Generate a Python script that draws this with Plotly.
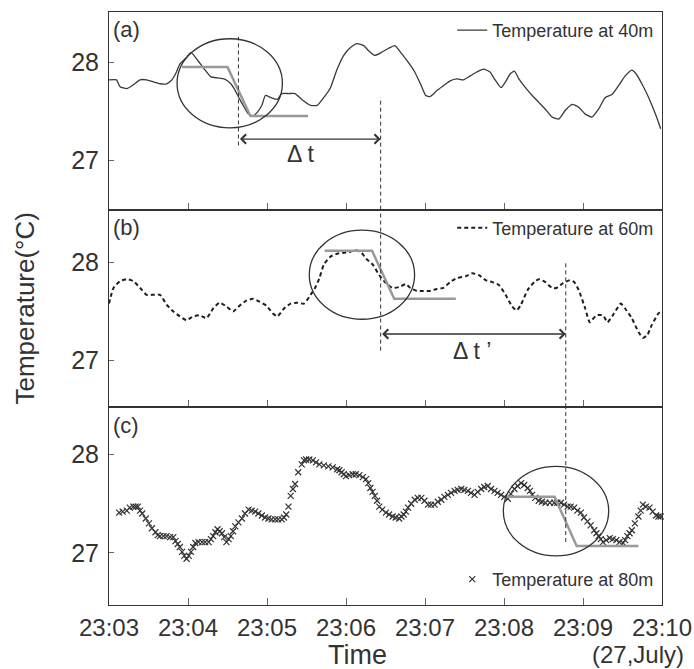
import plotly.graph_objects as go
from plotly.subplots import make_subplots

# ---------------- data (time in seconds after 23:03:00, temperature in degC) -------------
tick_seconds = [0, 60, 120, 180, 240, 300, 360, 420]
tick_labels = ["23:03", "23:04", "23:05", "23:06", "23:07", "23:08", "23:09", "23:10"]

t40 = [0, 5.7, 8.4, 13.5, 18.5, 23.6, 28.6, 33.7, 38.7, 43.7,
       47.1, 50.5, 53.8, 58.9, 62.3, 67.3, 72.4, 77.4, 82.4, 87.5,
       92.5, 95.9, 99.3, 102.7, 106.0, 109.4, 112.7, 116.1, 118.8, 122.8,
       127.9, 131.2, 136.3, 141.3, 146.4, 153.1, 158.2, 163.2, 168.2, 173.3,
       178.3, 183.4, 188.5, 193.5, 196.9, 201.9, 206.9, 212.0, 217.1, 222.1,
       227.2, 232.2, 237.2, 240.6, 244.0, 249.0, 254.0, 259.1, 264.2, 269.2,
       274.3, 279.3, 284.3, 289.4, 292.7, 297.8, 301.2, 304.6, 307.9, 311.3,
       316.3, 321.4, 326.4, 331.4, 336.5, 341.6, 346.6, 351.7, 356.7, 361.7,
       366.8, 371.8, 376.9, 382.0, 387.0, 392.0, 397.1, 400.4, 405.5, 410.5,
       415.6, 419.0]
temp40 = [27.82, 27.82, 27.75, 27.73, 27.77, 27.82, 27.82, 27.80, 27.78, 27.78,
          27.81, 27.88, 27.98, 28.05, 28.10, 28.02, 27.93, 27.85, 27.84, 27.83,
          27.78, 27.71, 27.62, 27.54, 27.47, 27.45, 27.49, 27.56, 27.66, 27.64,
          27.62, 27.68, 27.68, 27.68, 27.62, 27.56, 27.56, 27.64, 27.74, 27.93,
          28.07, 28.15, 28.19, 28.17, 28.12, 28.07, 28.10, 28.14, 28.17, 28.09,
          28.00, 27.90, 27.76, 27.66, 27.65, 27.71, 27.76, 27.81, 27.83, 27.82,
          27.86, 27.90, 27.93, 27.90, 27.83, 27.74, 27.80, 27.88, 27.91, 27.83,
          27.74, 27.66, 27.59, 27.52, 27.44, 27.42, 27.51, 27.57, 27.54, 27.47,
          27.44, 27.52, 27.64, 27.67, 27.76, 27.86, 27.92, 27.88, 27.76, 27.62,
          27.45, 27.32]

t60 = [0, 3.4, 8.4, 13.5, 18.5, 23.6, 28.6, 33.7, 38.7, 43.7,
       48.8, 53.8, 58.9, 64.0, 69.0, 74.0, 79.1, 84.1, 89.2, 94.2,
       99.3, 104.3, 109.4, 114.4, 119.5, 124.5, 127.9, 132.9, 138.0, 143.0,
       148.1, 153.1, 156.5, 159.8, 163.2, 168.2, 173.3, 178.3, 183.4, 186.8,
       191.8, 195.2, 200.2, 205.3, 210.3, 215.4, 220.4, 225.5, 228.8, 233.9,
       238.9, 244.0, 249.0, 254.0, 259.1, 264.2, 270.9, 275.9, 281.0, 286.0,
       291.1, 296.1, 301.2, 306.2, 309.6, 312.9, 318.0, 323.0, 326.4, 331.4,
       336.5, 339.9, 344.9, 350.0, 353.3, 356.7, 361.7, 365.1, 370.2, 375.2,
       378.6, 383.6, 388.7, 392.0, 397.1, 402.1, 405.5, 408.9, 412.2, 417.3,
       419.7]
temp60 = [27.58, 27.74, 27.81, 27.83, 27.81, 27.74, 27.67, 27.67, 27.67, 27.57,
          27.50, 27.45, 27.41, 27.45, 27.46, 27.43, 27.53, 27.59, 27.55, 27.50,
          27.56, 27.61, 27.63, 27.60, 27.56, 27.48, 27.45, 27.53, 27.58, 27.59,
          27.58, 27.67, 27.74, 27.84, 27.98, 28.06, 28.09, 28.10, 28.11, 28.13,
          28.10, 28.04, 27.98, 27.87, 27.79, 27.74, 27.75, 27.78, 27.74, 27.71,
          27.71, 27.71, 27.73, 27.74, 27.80, 27.84, 27.86, 27.89, 27.87, 27.82,
          27.80, 27.77, 27.67, 27.55, 27.51, 27.57, 27.72, 27.80, 27.83, 27.80,
          27.74, 27.74, 27.79, 27.82, 27.80, 27.72, 27.53, 27.39, 27.46, 27.46,
          27.39, 27.48, 27.58, 27.53, 27.43, 27.29, 27.23, 27.26, 27.36, 27.48,
          27.50]

t80 = [7.7, 10.4, 13.5, 15.8, 18.5, 20.2, 21.9, 23.6, 25.2, 27.9,
       30.3, 32.6, 35.3, 37.0, 38.7, 41.4, 43.7, 46.4, 48.8, 50.5,
       52.2, 53.8, 55.5, 57.2, 58.9, 60.6, 62.3, 63.9, 65.6, 68.0,
       70.7, 73.0, 75.7, 77.4, 79.1, 80.8, 82.4, 84.1, 85.8, 87.5,
       89.2, 90.9, 92.5, 94.2, 95.9, 98.3, 101.0, 103.3, 106.0, 108.4,
       111.0, 113.4, 116.1, 118.5, 121.1, 123.5, 126.2, 128.5, 131.2, 132.9,
       134.6, 136.3, 138.0, 139.7, 141.3, 143.7, 146.4, 148.1, 149.7, 152.1,
       154.8, 157.2, 159.8, 163.2, 166.6, 169.9, 173.3, 175.0, 176.7, 178.3,
       180.0, 182.4, 185.1, 187.4, 190.1, 192.8, 195.2, 196.9, 198.5, 200.2,
       201.9, 203.6, 205.3, 207.6, 210.3, 212.7, 215.4, 217.7, 220.4, 222.1,
       223.8, 225.5, 227.1, 229.5, 232.2, 234.5, 237.2, 239.6, 242.3, 244.6,
       247.3, 249.7, 252.4, 254.7, 257.4, 259.8, 262.5, 264.8, 267.5, 269.9,
       272.6, 274.9, 277.6, 280.0, 282.7, 285.0, 287.7, 290.1, 292.8, 295.1,
       297.8, 300.2, 302.9, 305.2, 307.9, 310.3, 313.0, 315.3, 318.0, 319.7,
       321.4, 323.7, 326.4, 328.8, 331.5, 334.8, 338.2, 340.5, 343.2, 345.6,
       348.3, 350.6, 353.3, 355.7, 358.4, 360.7, 363.4, 365.8, 368.5, 370.2,
       371.8, 373.5, 375.2, 377.6, 380.3, 382.6, 385.3, 387.7, 390.4, 392.0,
       393.7, 395.4, 397.1, 399.4, 402.1, 403.8, 405.5, 407.8, 410.5, 412.9,
       415.6, 417.3, 419.0, 422.3, 425.7, 429.0]
temp80 = [27.41, 27.42, 27.43, 27.46, 27.47, 27.47, 27.47, 27.43, 27.40, 27.35,
          27.30, 27.25, 27.21, 27.18, 27.17, 27.17, 27.17, 27.16, 27.16, 27.12,
          27.09, 27.06, 27.01, 26.97, 26.94, 26.97, 27.01, 27.06, 27.10, 27.11,
          27.11, 27.11, 27.11, 27.14, 27.17, 27.21, 27.24, 27.22, 27.20, 27.16,
          27.11, 27.14, 27.17, 27.22, 27.27, 27.31, 27.35, 27.40, 27.44, 27.43,
          27.42, 27.40, 27.38, 27.36, 27.35, 27.34, 27.34, 27.34, 27.34, 27.36,
          27.39, 27.47, 27.58, 27.65, 27.70, 27.82, 27.90, 27.94, 27.95, 27.95,
          27.94, 27.92, 27.90, 27.89, 27.88, 27.87, 27.85, 27.84, 27.82, 27.80,
          27.78, 27.79, 27.80, 27.80, 27.79, 27.77, 27.75, 27.71, 27.66, 27.62,
          27.58, 27.53, 27.47, 27.44, 27.41, 27.39, 27.37, 27.36, 27.35, 27.37,
          27.39, 27.42, 27.46, 27.50, 27.54, 27.56, 27.56, 27.53, 27.49, 27.49,
          27.49, 27.52, 27.54, 27.57, 27.59, 27.61, 27.63, 27.64, 27.65, 27.64,
          27.63, 27.61, 27.59, 27.62, 27.65, 27.67, 27.68, 27.65, 27.63, 27.61,
          27.59, 27.57, 27.55, 27.60, 27.65, 27.68, 27.71, 27.69, 27.66, 27.63,
          27.59, 27.56, 27.53, 27.52, 27.51, 27.51, 27.51, 27.51, 27.51, 27.49,
          27.47, 27.47, 27.46, 27.43, 27.41, 27.36, 27.32, 27.28, 27.23, 27.20,
          27.17, 27.14, 27.11, 27.13, 27.15, 27.14, 27.13, 27.11, 27.10, 27.13,
          27.17, 27.20, 27.23, 27.30, 27.37, 27.43, 27.49, 27.47, 27.46, 27.42,
          27.38, 27.37, 27.37, 27.39, 27.41, 27.43]

# idealised front (step) fits shown in grey
step40_t = [55.5, 90.0, 107.4, 151.2]
step40_T = [27.95, 27.95, 27.45, 27.45]
step60_t = [163.8, 199.8, 216.6, 263.4]
step60_T = [28.12, 28.12, 27.63, 27.63]
step80_t = [301.2, 338.4, 355.2, 402.0]
step80_T = [27.57, 27.57, 27.07, 27.07]

# highlighted front passages (centre time, centre temperature)
front_centres = [(91.7, 27.785), (192.1, 27.875), (339.5, 27.425)]
front_half_width_s = 40.0
front_half_height_T = 0.455
# front arrival times used for the lags
front_times = [98.3, 206.3, 346.9]

# ---------------- figure -------------------------------------------------------------------
FONT = "Liberation Sans, Arial, sans-serif"
DARK = "#333333"
yranges = [[26.494, 28.513], [26.52, 28.54], [26.47, 28.48]]

fig = make_subplots(rows=3, cols=1, shared_xaxes=True, vertical_spacing=0)

fig.add_trace(go.Scatter(x=t40, y=temp40, mode="lines", name="Temperature at 40m",
                         line=dict(color="#3a3a3a", width=1.3, shape="spline", smoothing=0.5),
                         legend="legend"), row=1, col=1)
fig.add_trace(go.Scatter(x=step40_t, y=step40_T, mode="lines", showlegend=False,
                         line=dict(color="#999999", width=2.5)), row=1, col=1)

fig.add_trace(go.Scatter(x=t60, y=temp60, mode="lines", name="Temperature at 60m",
                         line=dict(color="#1e1e1e", width=2, dash="4px,3px", shape="spline", smoothing=0.5),
                         legend="legend2"), row=2, col=1)
fig.add_trace(go.Scatter(x=step60_t, y=step60_T, mode="lines", showlegend=False,
                         line=dict(color="#999999", width=2.5)), row=2, col=1)

fig.add_trace(go.Scatter(x=t80, y=temp80, mode="markers", name="Temperature at 80m",
                         marker=dict(symbol="x-thin", size=6, color=DARK,
                                     line=dict(width=1.2, color=DARK)),
                         cliponaxis=False, legend="legend3"), row=3, col=1)
fig.add_trace(go.Scatter(x=step80_t, y=step80_T, mode="lines", showlegend=False,
                         line=dict(color="#999999", width=2.5)), row=3, col=1)

# ellipses around the fronts
for i, (tc, Tc) in enumerate(front_centres):
    sfx = "" if i == 0 else str(i + 1)
    fig.add_shape(type="circle", xref="x" + sfx, yref="y" + sfx,
                  x0=tc - front_half_width_s, x1=tc + front_half_width_s,
                  y0=Tc - front_half_height_T, y1=Tc + front_half_height_T,
                  line=dict(color=DARK, width=1.3))

dash_line = dict(color=DARK, width=1, dash="4px,3px")
# first front line in (a)
fig.add_shape(type="line", xref="x", yref="y", x0=front_times[0], x1=front_times[0],
              y0=27.15, y1=28.26, line=dash_line)
# second front: (a) -> (b)
fig.add_shape(type="line", xref="x", yref="y", x0=front_times[1], x1=front_times[1],
              y0=yranges[0][0], y1=27.64, line=dash_line)
fig.add_shape(type="line", xref="x2", yref="y2", x0=front_times[1], x1=front_times[1],
              y0=27.10, y1=yranges[1][1], line=dash_line)
# third front: (b) -> (c)
fig.add_shape(type="line", xref="x2", yref="y2", x0=front_times[2], x1=front_times[2],
              y0=yranges[1][0], y1=28.01, line=dash_line)
fig.add_shape(type="line", xref="x3", yref="y3", x0=front_times[2], x1=front_times[2],
              y0=27.11, y1=yranges[2][1], line=dash_line)

annots = []
# lag arrows
for (xa, xb, yv, xr, yr) in [(front_times[0], front_times[1], 27.215, "x", "y"),
                             (front_times[1], front_times[2], 27.27, "x2", "y2")]:
    annots.append(dict(x=xb, y=yv, ax=xa, ay=yv, xref=xr, yref=yr, axref=xr, ayref=yr,
                       text="", showarrow=True, arrowhead=4, arrowsize=1.3,
                       arrowwidth=1.4, arrowcolor=DARK, arrowside="end+start"))
annots.append(dict(x=145.4, y=27.06, xref="x", yref="y", text="Δ t", showarrow=False,
                   font=dict(family=FONT, size=23, color=DARK)))
annots.append(dict(x=275.9, y=27.10, xref="x2", yref="y2", text="Δ t ’", showarrow=False,
                   font=dict(family=FONT, size=23, color=DARK)))

# panel letters
for i, lab in enumerate(["(a)", "(b)", "(c)"]):
    sfx = "" if i == 0 else str(i + 1)
    annots.append(dict(x=0.004, y=0.909, xref="x" + sfx + " domain", yref="y" + sfx + " domain",
                       text=lab, showarrow=False, xanchor="left", yanchor="middle",
                       font=dict(family=FONT, size=22, color=DARK)))

annots.append(dict(x=-0.1519, y=0.5, xref="paper", yref="paper", text="Temperature(°C)",
                   textangle=-90, showarrow=False, xanchor="center", yanchor="middle",
                   font=dict(family=FONT, size=26, color=DARK)))
annots.append(dict(x=0.4485, y=-0.084, xref="paper", yref="paper", text="Time",
                   showarrow=False, xanchor="center", yanchor="middle",
                   font=dict(family=FONT, size=27, color=DARK)))
annots.append(dict(x=0.9566, y=-0.084, xref="paper", yref="paper", text="(27,July)",
                   showarrow=False, xanchor="center", yanchor="middle",
                   font=dict(family=FONT, size=24, color=DARK)))

leg_common = dict(xanchor="right", bgcolor="rgba(0,0,0,0)",
                  font=dict(family=FONT, size=18, color=DARK), itemwidth=30,
                  borderwidth=0)

fig.update_layout(
    width=694, height=669,
    margin=dict(l=109, r=32, t=12, b=64, autoexpand=False),
    paper_bgcolor="white", plot_bgcolor="white",
    font=dict(family=FONT, color=DARK),
    annotations=annots,
    legend=dict(x=0.995, y=1.0, yanchor="top", **leg_common),
    legend2=dict(x=0.995, y=2 / 3, yanchor="top", **leg_common),
    legend3=dict(x=0.995, y=0.012, yanchor="bottom", **leg_common),
)

for r in range(1, 4):
    fig.update_xaxes(range=[0, 420], tickvals=tick_seconds, ticktext=tick_labels,
                     ticks="inside", ticklen=7, tickcolor="#666666", tickwidth=1,
                     showline=True, mirror=True, linecolor=DARK, linewidth=1,
                     showgrid=False, zeroline=False, automargin=False,
                     ticklabelstandoff=1, ticklabeloverflow="allow",
                     tickfont=dict(family=FONT, size=24, color=DARK), row=r, col=1)
    fig.update_yaxes(range=yranges[r - 1], tickvals=[27, 28], ticktext=["27", "28"],
                     ticks="inside", ticklen=5, tickcolor="#666666", tickwidth=1,
                     showline=True, mirror=True, linecolor=DARK, linewidth=1,
                     showgrid=False, zeroline=False, ticklabelstandoff=4, automargin=False,
                     tickfont=dict(family=FONT, size=25, color=DARK), row=r, col=1)

# remove the default page margin so the 694x669 figure fills the window exactly
fig.write_html("out.html", config={"displayModeBar": False},
               post_script="document.body.style.margin='0';document.body.style.overflow='hidden';")
